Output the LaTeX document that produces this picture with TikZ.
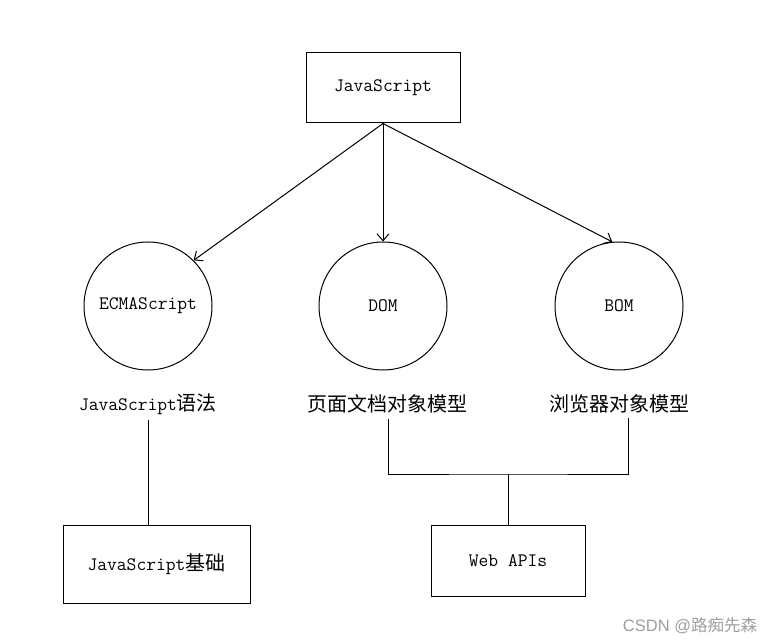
\documentclass[tikz,border=0pt]{standalone}
\usepackage{fontspec}
\newfontfamily\zhfont{Noto Sans CJK SC}
\newfontfamily\wmfont{Liberation Sans}
\newcommand{\zhs}[1]{{\zhfont\fontsize{20}{22}\selectfont #1}}
\usetikzlibrary{arrows.meta}
\begin{document}
\begin{tikzpicture}[x=1pt,y=-1pt,
  txt/.style={font=\ttfamily\fontsize{19}{22}\selectfont},
  box/.style={draw, line width=1pt, inner sep=0pt, txt},
  circ/.style={draw, circle, line width=1pt, minimum size=128pt, inner sep=0pt, txt},
  lbl/.style={inner xsep=0pt, inner ysep=5pt, txt},
  conn/.style={line width=1pt},
  arr/.style={conn, -{Straight Barb[length=7pt,width=12pt]}}]
\useasboundingbox (0,0) rectangle (774,644);
\node[box, minimum width=154pt, minimum height=70pt] (js) at (383,88) {JavaScript};
\node[circ] (ecma) at (148,306) {ECMAScript};
\node[circ] (dom) at (383,306) {DOM};
\node[circ] (bom) at (619,306) {BOM};
\node[lbl] (l1) at (148,404) {JavaScript\zhs{语法}};
\node[lbl] (l2) at (387,404) {\zhs{页面文档对象模型}};
\node[lbl] (l3) at (619,404) {\zhs{浏览器对象模型}};
\node[box, minimum width=187pt, minimum height=78pt] (base) at (156.5,564) {JavaScript\zhs{基础}};
\node[box, minimum width=154pt, minimum height=71pt] (web) at (508,560.5) {Web APIs};
\coordinate (jn) at (508,474);
\node[font=\wmfont\fontsize{16.5}{19}\selectfont, text=black!38, inner sep=0pt] (wm) at (690,626) {CSDN @{\zhfont 路痴先森}};
\draw[arr] (js.south) -- (ecma.45);
\draw[arr] (js.south) -- (dom.north);
\draw[arr] (js.south) -- (bom.96);
\draw[conn] (l1.south) -- (l1.south |- base.north);
\draw[conn] ([xshift=1pt]l2.south) |- (jn) -| ([xshift=9pt]l3.south);
\draw[conn] (jn) -- (web.north);
\end{tikzpicture}
\end{document}
